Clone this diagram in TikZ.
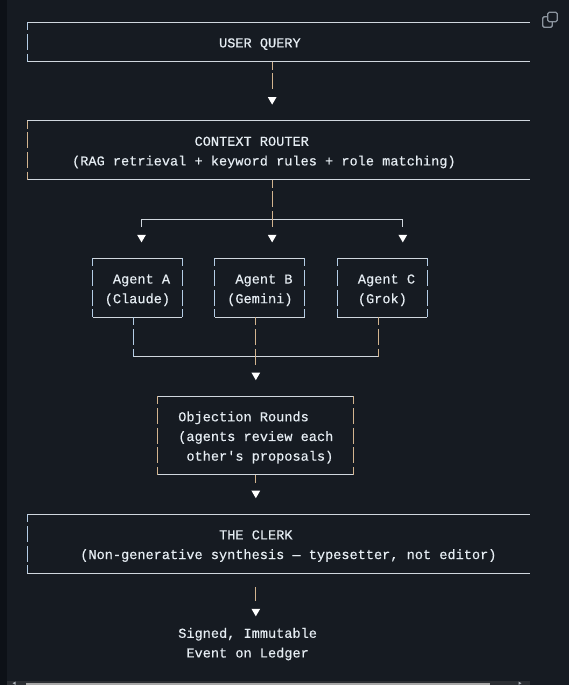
\documentclass[tikz,border=0pt]{standalone}
\usepackage{fontspec}
\setmonofont{Liberation Mono}[FakeBold=0.35]
\definecolor{bgc}{HTML}{161B22}
\definecolor{stripc}{HTML}{0D1117}
\definecolor{linec}{HTML}{D0D7DE}
\definecolor{txtc}{HTML}{E6EDF3}
\definecolor{tanc}{HTML}{D2B48F}
\definecolor{bluec}{HTML}{B4CDE6}
\definecolor{iconc}{HTML}{8B949E}
\definecolor{trackc}{HTML}{2B2E33}
\definecolor{thumbc}{HTML}{A8A8A8}
\begin{document}
\begin{tikzpicture}[x=1pt,y=-19.68pt,
  hline/.style={draw=linec,line width=1pt},
  vglyph/.style={line width=1pt,dash pattern=on 16pt off 3.68pt,dash phase=8pt},
  vtan/.style={vglyph,draw=tanc},
  vblue/.style={vglyph,draw=bluec},
  vwhite/.style={vglyph,draw=linec},
  txt/.style={anchor=base west,inner sep=0pt,outer sep=0pt,text=txtc,
    font=\ttfamily\fontsize{13.6}{16}\selectfont,yshift=-5.4pt},
  tri/.pic={\fill[white] (-4.35pt,3.9pt) -- (4.35pt,3.9pt) -- (0pt,-3.6pt) -- cycle;}
]
% canvas and bounding box
\path[use as bounding box] (0,-1.1331) rectangle (569,33.674);
\fill[bgc] (0,-1.1331) rectangle (569,33.674);
\fill[stripc] (0,-1.1331) rectangle (6.5,33.674);
% scrollbar
\fill[trackc] (6.5,33.455) rectangle (530,33.674);
\fill[thumbc] (26,33.557) rectangle (490,33.674);
% copy icon (pixel coordinates)
\begin{scope}[yshift=22.3pt,y=-1pt]
  \draw[iconc,line width=1.3pt,rounded corners=1.5pt] (547.7,12.3) rectangle (557.3,21.7);
  \draw[iconc,line width=1.3pt,rounded corners=1.5pt] (547.7,16.7) -- (542.7,16.7) -- (542.7,27.3) -- (552.3,27.3) -- (552.3,21.7);
  \fill[iconc!70] (12.5,683.2) -- (15.5,681.6) -- (15.5,684.8) -- cycle;
  \fill[iconc!70] (521.5,683.2) -- (518.5,681.6) -- (518.5,684.8) -- cycle;
\end{scope}

% ---------- coordinates ----------
\coordinate (uqTL) at (27.2,0);   \coordinate (uqTR) at (529.8,0);
\coordinate (uqBL) at (27.2,2);   \coordinate (uqBR) at (529.8,2);
\coordinate (uqOut) at (272.15,2); \coordinate (uqEnd) at (272.15,3.45);
\coordinate (crTL) at (27.2,5);   \coordinate (crTR) at (529.8,5);
\coordinate (crBL) at (27.2,8);   \coordinate (crBR) at (529.8,8);
\coordinate (crOut) at (272.15,8); \coordinate (crEnd) at (272.15,10.45);
\coordinate (brL) at (141.51,10); \coordinate (brR) at (402.79,10);
\coordinate (brLe) at (141.51,10.45); \coordinate (brRe) at (402.79,10.45);
% agent boxes
\coordinate (aTL) at (92.52,12);  \coordinate (aTR) at (182.34,12);
\coordinate (aBL) at (92.52,15);  \coordinate (aBR) at (182.34,15);
\coordinate (bTL) at (214.99,12); \coordinate (bTR) at (304.81,12);
\coordinate (bBL) at (214.99,15); \coordinate (bBR) at (304.81,15);
\coordinate (cTL) at (337.47,12); \coordinate (cTR) at (427.29,12);
\coordinate (cBL) at (337.47,15); \coordinate (cBR) at (427.29,15);
\coordinate (aOut) at (133.35,15); \coordinate (aJ) at (133.35,17);
\coordinate (bOut) at (255.82,15); \coordinate (bJ) at (255.82,17.45);
\coordinate (cOut) at (378.3,15);  \coordinate (cJ) at (378.3,17);
% objection box
\coordinate (oTL) at (157.84,19); \coordinate (oTR) at (353.8,19);
\coordinate (oBL) at (157.84,23); \coordinate (oBR) at (353.8,23);
\coordinate (oOut) at (255.82,23); \coordinate (oEnd) at (255.82,23.45);
% clerk box
\coordinate (kTL) at (27.2,25);   \coordinate (kTR) at (529.8,25);
\coordinate (kBL) at (27.2,28);   \coordinate (kBR) at (529.8,28);
\coordinate (kS) at (255.82,28.7); \coordinate (kE) at (255.82,29.4);

% ---------- horizontal box lines ----------
\draw[hline] (uqTL) -- (uqTR);  \draw[hline] (uqBL) -- (uqBR);
\draw[hline] (crTL) -- (crTR);  \draw[hline] (crBL) -- (crBR);
\draw[hline] (brL) -- (brR);
\draw[hline] (aTL) -- (aTR);  \draw[hline] (aBL) -- (aBR);
\draw[hline] (bTL) -- (bTR);  \draw[hline] (bBL) -- (bBR);
\draw[hline] (cTL) -- (cTR);  \draw[hline] (cBL) -- (cBR);
\draw[hline] (aJ) -- (cJ);
\draw[hline] (oTL) -- (oTR);  \draw[hline] (oBL) -- (oBR);
\draw[hline] (kTL) -- (kTR);  \draw[hline] (kBL) -- (kBR);

% ---------- vertical glyph lines ----------
\draw[vblue] (uqTL) -- (uqBL);
\draw[vtan] (crTL) -- (crBL);
\draw[vblue] (kTL) -- (kBL);
\draw[vtan] (uqOut) -- (uqEnd);
\draw[vtan] (crOut) -- (crEnd);
\draw[vwhite] (brL) -- (brLe);
\draw[vwhite] (brR) -- (brRe);
\draw[vblue] (aTL) -- (aBL);  \draw[vblue] (aTR) -- (aBR);
\draw[vblue] (bTL) -- (bBL);  \draw[vblue] (bTR) -- (bBR);
\draw[vblue] (cTL) -- (cBL);  \draw[vblue] (cTR) -- (cBR);
\draw[vblue] (aOut) -- (aJ);
\draw[vtan] (bOut) -- (bJ);
\draw[vtan] (cOut) -- (cJ);
\draw[vtan] (oTL) -- (oBL);  \draw[vtan] (oTR) -- (oBR);
\draw[vtan] (oOut) -- (oEnd);
\draw[tanc,line width=1pt] (kS) -- (kE);

% ---------- arrowheads ----------
\pic at (272.15,4) {tri};
\pic at (141.51,11) {tri};
\pic at (272.15,11) {tri};
\pic at (402.79,11) {tri};
\pic at (255.82,18) {tri};
\pic at (255.82,24) {tri};
\pic at (255.82,30) {tri};

% ---------- texts ----------
\node[txt] (uq) at (219.08,1) {USER QUERY};
\node[txt] (cr1) at (194.59,6) {CONTEXT ROUTER};
\node[txt] (cr2) at (72.11,7) {(RAG retrieval + keyword rules + role matching)};
\node[txt] (a1) at (112.94,13) {Agent A};
\node[txt] (a2) at (104.77,14) {(Claude)};
\node[txt] (b1) at (235.41,13) {Agent B};
\node[txt] (b2) at (227.24,14) {(Gemini)};
\node[txt] (c1) at (357.89,13) {Agent C};
\node[txt] (c2) at (357.89,14) {(Grok)};
\node[txt] (o1) at (178.26,20) {Objection Rounds};
\node[txt] (o2) at (178.26,21) {(agents review each};
\node[txt] (o3) at (186.42,22) {other's proposals)};
\node[txt] (k1) at (219.08,26) {THE CLERK};
\node[txt] (k2) at (80.28,27) {(Non-generative synthesis — typesetter, not editor)};
\node[txt] (s1) at (178.26,31) {Signed, Immutable};
\node[txt] (s2) at (186.42,32) {Event on Ledger};
\end{tikzpicture}
\end{document}
